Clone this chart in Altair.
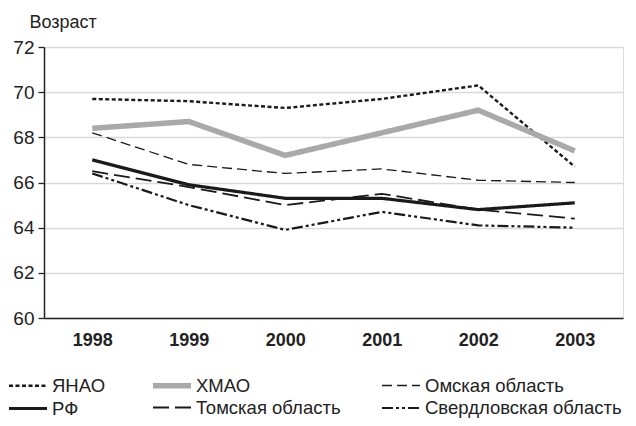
import altair as alt
import pandas as pd

years = ["1998", "1999", "2000", "2001", "2002", "2003"]
series = ["ЯНАО", "ХМАО", "Омская область", "РФ", "Томская область", "Свердловская область"]
yanao = [69.7, 69.6, 69.3, 69.7, 70.3, 66.7]
hmao = [68.4, 68.7, 67.2, 68.2, 69.2, 67.4]
omsk = [68.2, 66.8, 66.4, 66.6, 66.1, 66.0]
rf = [67.0, 65.9, 65.3, 65.3, 64.8, 65.1]
tomsk = [66.5, 65.8, 65.0, 65.5, 64.8, 64.4]
sverd = [66.4, 65.0, 63.9, 64.7, 64.1, 64.0]

values = [yanao, hmao, omsk, rf, tomsk, sverd]
rows = []
for s, vals in zip(series, values):
    for y, v in zip(years, vals):
        rows.append({"Регион": s, "Год": y, "Возраст": v})
df = pd.DataFrame(rows)

colors = ["#1a1a1a", "#a9a9ab", "#1a1a1a", "#1a1a1a", "#1a1a1a", "#1a1a1a"]
dashes = [[4, 2.5], [1, 0], [10, 5], [1, 0], [16, 6], [11, 3, 3, 3, 3, 3]]
widths = [2.4, 5.5, 1.3, 3.2, 1.8, 2.2]

FONT = "Liberation Sans"

chart = alt.Chart(df).mark_line().encode(
    x=alt.X("Год:O", scale=alt.Scale(type="point", padding=0.5),
            axis=alt.Axis(title=None, labelAngle=0, labelFontWeight="bold",
                          labelFontSize=18, labelColor="#222", ticks=False,
                          domainColor="#222", domainWidth=1.5, labelPadding=13,
                          grid=False)),
    y=alt.Y("Возраст:Q", scale=alt.Scale(domain=[60, 72], nice=False, zero=False),
            axis=alt.Axis(values=[60, 62, 64, 66, 68, 70, 72], title="Возраст",
                          titleAngle=0, titleAlign="left", titleBaseline="alphabetic",
                          titleX=-15, titleY=-20, titleFontSize=18,
                          titleFontWeight="normal", titleColor="#222",
                          labelFontSize=19, labelColor="#222", labelPadding=4,
                          tickSize=6, tickColor="#222", tickWidth=1.3,
                          domainColor="#222", domainWidth=1.5,
                          grid=True, gridColor="#d9d9d9", gridWidth=1.5)),
    color=alt.Color("Регион:N", scale=alt.Scale(domain=series, range=colors),
                    legend=alt.Legend(title=None, orient="none", legendX=-28.5,
                                      legendY=326, columns=3, columnPadding=36,
                                      rowPadding=0, symbolType="M-2,0H2",
                                      symbolSize=361, labelFontSize=18.5,
                                      labelColor="#222", labelLimit=400,
                                      labelOffset=11.5, direction="horizontal")),
    strokeDash=alt.StrokeDash("Регион:N",
                              scale=alt.Scale(type="ordinal", domain=series, range=dashes),
                              legend=None),
    strokeWidth=alt.StrokeWidth("Регион:N",
                                scale=alt.Scale(type="ordinal", domain=series, range=widths),
                                legend=None),
).properties(
    width=579, height=271,
    autosize=alt.AutoSizeParams(type="none"),
    padding={"left": 36, "top": 39, "right": 5, "bottom": 100},
).configure_view(stroke=None).configure(font=FONT)

chart.save("out.html", embed_options={"renderer": "svg", "actions": False})
